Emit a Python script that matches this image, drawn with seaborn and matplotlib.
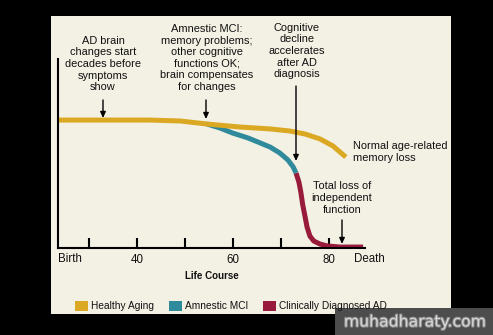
import numpy as np
import pandas as pd
import matplotlib
matplotlib.use("Agg")
import matplotlib.pyplot as plt
import seaborn as sns
from matplotlib.patches import Rectangle, Patch
import matplotlib.patheffects as pe

# ---------------- data ----------------
healthy_age = [23.5, 32.3, 42.7, 49.0, 54.6, 61.5, 67.8, 71.9, 75.1, 78.2, 80.9, 83.6]
healthy_val = [67.7, 67.7, 67.7, 67.2, 65.6, 64.0, 63.0, 61.9, 60.3, 57.7, 54.0, 48.1]

mci_age = [54.6, 57.3, 60.0, 63.2, 65.7, 67.8, 69.8, 71.5, 72.6, 73.2]
mci_val = [65.6, 63.5, 60.8, 58.2, 55.6, 53.4, 50.3, 46.6, 42.9, 39.7]

ad_age = [73.2, 73.8, 74.2, 74.6, 75.1, 75.5, 76.1, 76.9, 78.2, 79.7, 82.4, 87.2]
ad_val = [39.7, 34.9, 29.6, 22.8, 16.4, 11.1, 6.3, 3.7, 2.1, 1.1, 0.5, 0.5]

tick_pos = [30, 40, 50, 60, 70, 80]
tick_labels = ["", "40", "", "60", "", "80"]
stages = ["Healthy Aging", "Amnestic MCI", "Clinically Diagnosed AD"]
colors = {"Healthy Aging": "#DBA823", "Amnestic MCI": "#2F8A9C", "Clinically Diagnosed AD": "#991B3C"}

df = pd.concat([
    pd.DataFrame({"age": healthy_age, "val": healthy_val, "stage": stages[0]}),
    pd.DataFrame({"age": mci_age, "val": mci_val, "stage": stages[1]}),
    pd.DataFrame({"age": ad_age, "val": ad_val, "stage": stages[2]}),
], ignore_index=True)

# ---------------- figure ----------------
sns.set_theme(style="white")
FONT = ["Liberation Sans Narrow", "Liberation Sans", "DejaVu Sans"]
plt.rcParams["font.family"] = FONT

W, H = 493, 335
fig = plt.figure(figsize=(W / 100, H / 100), dpi=100, facecolor="black")

CREAM = "#F3F0E4"
def px(x, y):
    return x / W, 1 - y / H

# cream panel
x0, y0 = px(51, 314)
x1, y1 = px(451, 16)
fig.patches.append(Rectangle((x0, y0), x1 - x0, y1 - y0, transform=fig.transFigure,
                             facecolor=CREAM, edgecolor="none", zorder=-5))

ax_l, ax_b = px(58, 248)
ax_r, ax_t = px(365, 59)
ax = fig.add_axes([ax_l, ax_b, ax_r - ax_l, ax_t - ax_b])
ax.set_facecolor("none")
ax.set_zorder(5)

order = ["Clinically Diagnosed AD", "Amnestic MCI", "Healthy Aging"]
for st in order:
    sub = df[df["stage"] == st]
    sns.lineplot(data=sub, x="age", y="val", color=colors[st], lw=3.6, ax=ax,
                 estimator=None, sort=False, legend=False,
                 solid_capstyle="butt", solid_joinstyle="round")

ax.set_xlim(23.5, 87.6)
ax.set_ylim(0, 100)
for s in ["top", "right"]:
    ax.spines[s].set_visible(False)
for s in ["left", "bottom"]:
    ax.spines[s].set_color("black")
    ax.spines[s].set_linewidth(1.5)
ax.set_yticks([])
ax.set_xticks(tick_pos)
ax.set_xticklabels(tick_labels)
ax.tick_params(axis="x", which="major", bottom=True, direction="in", length=7, width=1.5,
               color="black", labelsize=8.3, pad=4, labelcolor="#111111")
ax.set_xlabel("")
ax.set_ylabel("")

tc = "#111111"
ax.text(23.5, -5.8, "Birth", ha="left", va="center", fontsize=8.3, color=tc, clip_on=False)
ax.text(88.6, -5.8, "Death", ha="center", va="center", fontsize=8.3, color=tc, clip_on=False)
fig.text(*px(212, 276), "Life Course", ha="center", va="center", fontsize=7,
         fontweight="bold", color=tc)

# annotations
def note(x, y, s, ha="center"):
    fig.text(*px(x, y), s, ha=ha, va="center", fontsize=7.9, color=tc, linespacing=1.2)

def arrow(x, ytop, ybot):
    fig.add_artist(matplotlib.patches.FancyArrowPatch(
        px(x, ytop), px(x, ybot), transform=fig.transFigure,
        arrowstyle="-|>,head_length=3.5,head_width=1.6", color="black", lw=1.0,
        shrinkA=0, shrinkB=0, zorder=6))

note(103, 64, "AD brain\nchanges start\ndecades before\nsymptoms\nshow")
arrow(103, 100, 118)
note(207, 58, "Amnestic MCI:\nmemory problems;\nother cognitive\nfunctions OK;\nbrain compensates\nfor changes")
arrow(206, 100, 119)
note(297, 51, "Cognitive\ndecline\naccelerates\nafter AD\ndiagnosis")
arrow(296, 86, 161)
note(353, 152, "Normal age-related\nmemory loss", ha="left")
note(342, 198, "Total loss of\nindependent\nfunction")
arrow(342, 220, 244)

# legend
handles = [Patch(facecolor=colors[s], edgecolor="none") for s in stages]
fig.legend(handles, stages, loc="center", bbox_to_anchor=px(231, 306), ncol=3,
           frameon=False, fontsize=7.3, handlelength=1.3, handleheight=1.15,
           handletextpad=0.35, columnspacing=1.4, labelcolor=tc)

# watermark
wx0, wy0 = px(335, 335)
wx1, wy1 = px(493, 308)
fig.patches.append(Rectangle((wx0, wy0), wx1 - wx0, wy1 - wy0, transform=fig.transFigure,
                             facecolor="#4d4d4d", edgecolor="none", zorder=-4))
fig.text(*px(415, 322), "muhadharaty.com", ha="center", va="center", fontsize=11.3,
         color="#d8d8d8", family=["DejaVu Sans"],
         path_effects=[pe.withStroke(linewidth=1.5, foreground="#8a8a8a")])

fig.savefig("out.png", dpi=100, facecolor="black")
